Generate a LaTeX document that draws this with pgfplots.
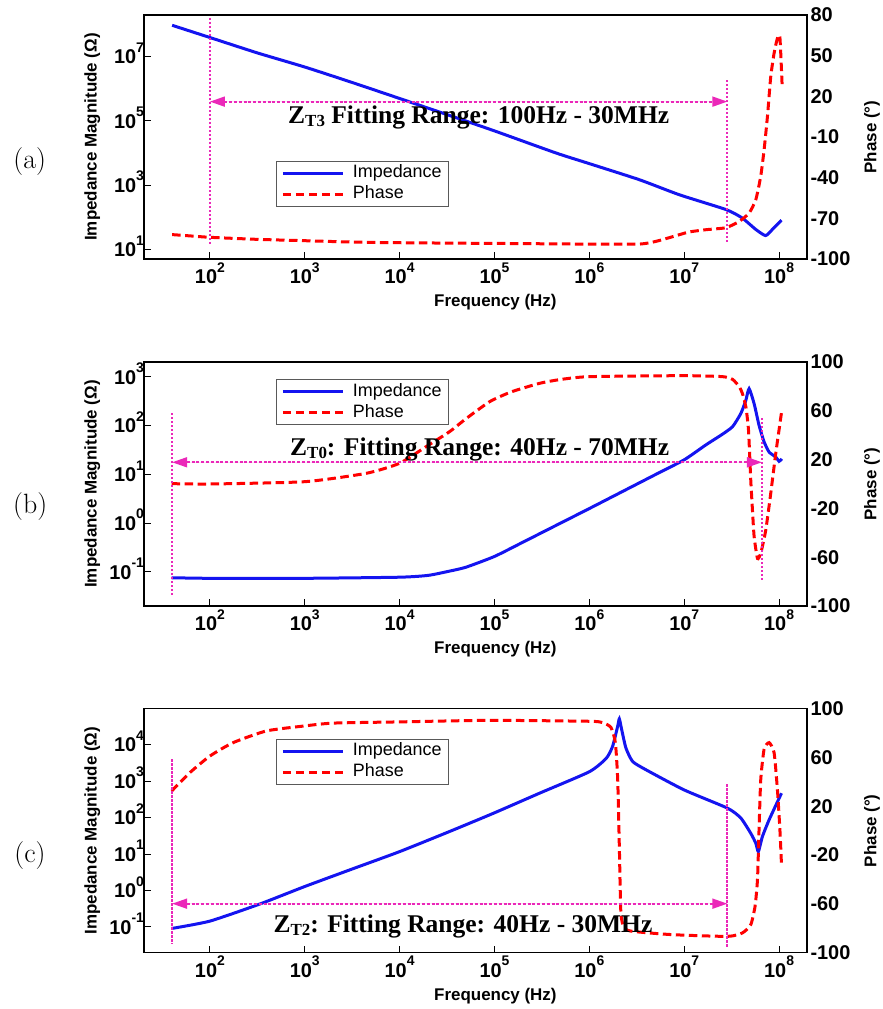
\documentclass[border=0pt]{standalone}
\usepackage{pgfplots}
\pgfplotsset{compat=1.18}
\usepackage{fontspec}
\usetikzlibrary{arrows.meta}
\newfontfamily\arial{Liberation Sans}
\newfontfamily\timesf{Liberation Serif}
\definecolor{zblue}{RGB}{20,20,240}
\definecolor{zred}{RGB}{255,0,0}
\definecolor{zmag}{RGB}{235,40,185}
\newcommand\tl[1]{10\raisebox{11.5bp}{\fontsize{14}{14}\selectfont #1}}
\newcommand\tickfont{\arial\bfseries\fontsize{20}{20}\selectfont}
\newcommand\labfont{\arial\bfseries\fontsize{17}{17}\selectfont}
\newcommand\annfont{\timesf\bfseries\fontsize{25.6}{25.6}\selectfont}
\newcommand\sub[1]{\raisebox{-3.5bp}{\fontsize{17}{17}\selectfont #1}}
\tikzset{
  zimp/.style={draw=zblue, line width=3bp, smooth, tension=0.35},
  zph/.style={draw=zred, line width=3bp, dash pattern=on 8.5bp off 4.5bp, smooth, tension=0.35},
  zdot/.style={draw=zmag, line width=1.8bp, dash pattern=on 2.4bp off 1.6bp},
  zarr/.style={draw=zmag, fill=zmag, line width=1.8bp, dash pattern=on 3bp off 1.8bp,
    {Triangle[length=15bp,width=10bp]}-{Triangle[length=15bp,width=10bp]}},
}
\pgfplotsset{
  every axis/.append style={scale only axis, width=663bp, height=244bp,
    xmin=20.2, xmax=1.97e8, axis line style={line width=1.2bp},
    tick label style={font=\tickfont}, label style={font=\labfont}},
  legend image code/.code={\draw[#1] (0bp,0bp) -- (60bp,0bp);},
  every axis legend/.append style={anchor=north west, draw=black!65, line width=0.9bp,
      font=\arial\fontsize{18}{18}\selectfont, inner xsep=5bp, inner ysep=2bp,
      row sep=1bp, column sep=7bp,
      nodes={inner sep=1.5bp, text height=13bp, text depth=4bp}},
}
\begin{document}
\begin{tikzpicture}
\path[use as bounding box] (0,0) rectangle (883bp,-1009bp);
% ---------------- (a)
\begin{axis}[xmode=log, ymode=log, xminorticks=false, yminorticks=false,
    xtick={1e2,1e3,1e4,1e5,1e6,1e7,1e8},
    xticklabels={\tl{2},\tl{3},\tl{4},\tl{5},\tl{6},\tl{7},\tl{8}},
    xtick pos=left, ytick pos=left, tick align=inside, major tick length=7bp,
    tick style={line width=1bp, black},
    yticklabel style={anchor=base east, yshift=-7.2bp, xshift=3.5bp},
    xlabel={Frequency (Hz)}, ylabel={Impedance Magnitude (Ω)},
    xlabel style={at={(axis description cs:0.53,-0.176)}, anchor=center},
    ylabel style={at={(axis description cs:-0.078,0.5)}, anchor=center},
    legend cell align=left,
  at={(144bp,-259bp)}, anchor=south west,
  ymin=5, ymax=2e8, ytick={1e1,1e3,1e5,1e7},
  yticklabels={\tl{1},\tl{3},\tl{5},\tl{7}},
  legend style={at={(axis description cs:0.199,0.402)}}]
\addplot[zimp] coordinates {
(40,9.55e7) (100,3.98e7) (316,1.32e7) (1000,4.79e6) (3162,1.58e6) (1e4,5.01e5)
(3.16e4,1.58e5) (1e5,4.9e4) (4.47e5,1e4) (1e6,4.68e3) (3.36e6,1.48e3)
(8.9e6,501) (2.75e7,174) (4.07e7,95.5) (5.68e7,41.7) (7.2e7,26.9) (8.5e7,41.7) (1.06e8,81.3)};
\addlegendentry{Impedance}
\addlegendimage{zph}
\addlegendentry{Phase}
\end{axis}
\begin{axis}[xmode=log, axis x line=none, axis y line*=right,
  ytick style={draw=none}, ylabel={Phase (°)},
  ylabel style={at={(axis description cs:1.098,0.5)}, anchor=center},
  at={(144bp,-259bp)}, anchor=south west,
  ymin=-100, ymax=80, ytick={-100,-70,-40,-10,20,50,80},
  yticklabels={-100,-70,-40,-10,20,50,80}]
\addplot[zph] coordinates {
(40,-82) (63,-83) (100,-84) (316,-85.5) (1000,-86.5) (3162,-87.5) (1e4,-88)
(1e5,-88.5) (1e6,-89) (3.36e6,-89) (5.03e6,-87) (7.5e6,-83.6) (1.12e7,-80.1)
(1.69e7,-78.4) (2.75e7,-76.9) (3.8e7,-72.3) (4.83e7,-66.1) (5.68e7,-56.3)
(6.4e7,-39.1) (6.95e7,-19.5) (7.54e7,5.1) (8.17e7,34.6) (8.86e7,51.8)
(9.6e7,62.8) (1.02e8,63.6) (1.08e8,26)};
\draw[zdot] (axis cs:100,77.8) -- (axis cs:100,-89.5);
\draw[zdot] (axis cs:2.85e7,32) -- (axis cs:2.85e7,-88);
\draw[zarr] (axis cs:100,16.1) -- (axis cs:2.85e7,16.1);
\end{axis}
% ---------------- (b)
\begin{axis}[xmode=log, ymode=log, xminorticks=false, yminorticks=false,
    xtick={1e2,1e3,1e4,1e5,1e6,1e7,1e8},
    xticklabels={\tl{2},\tl{3},\tl{4},\tl{5},\tl{6},\tl{7},\tl{8}},
    xtick pos=left, ytick pos=left, tick align=inside, major tick length=7bp,
    tick style={line width=1bp, black},
    yticklabel style={anchor=base east, yshift=-7.2bp, xshift=3.5bp},
    xlabel={Frequency (Hz)}, ylabel={Impedance Magnitude (Ω)},
    xlabel style={at={(axis description cs:0.53,-0.176)}, anchor=center},
    ylabel style={at={(axis description cs:-0.078,0.5)}, anchor=center},
    legend cell align=left,
  at={(144bp,-606bp)}, anchor=south west,
  ymin=0.02, ymax=2030, ytick={1e-1,1e0,1e1,1e2,1e3},
  yticklabels={\tl{-1},\tl{0},\tl{1},\tl{2},\tl{3}},
  legend style={at={(axis description cs:0.199,0.930)}}]
\addplot[zimp] coordinates {
(39.5,0.076) (100,0.074) (1000,0.074) (1e4,0.078) (2e4,0.085) (3.36e4,0.104)
(5e4,0.125) (1e5,0.208) (2e5,0.409) (5e5,1.01) (1e6,2.0) (2e6,4.0) (5e6,10) (1e7,20)
(1.7e7,40.7) (2.5e7,66) (3.23e7,95.5) (3.95e7,178) (4.46e7,331) (4.83e7,575) (5.46e7,282)
(6.15e7,102) (6.95e7,46.8) (7.85e7,28.8) (9.22e7,22.9) (1e8,18.6) (1.07e8,20.9)};
\addlegendentry{Impedance}
\addlegendimage{zph}
\addlegendentry{Phase}
\end{axis}
\begin{axis}[xmode=log, axis x line=none, axis y line*=right,
  ytick style={draw=none}, ylabel={Phase (°)},
  ylabel style={at={(axis description cs:1.098,0.5)}, anchor=center},
  at={(144bp,-606bp)}, anchor=south west,
  ymin=-100, ymax=100, ytick={-100,-60,-20,20,60,100},
  yticklabels={-100,-60,-20,20,60,100}]
\addplot[zph] coordinates {
(39.5,0.3) (100,0) (1000,1.9) (4470,8.8) (1e4,17) (1.9e4,30.6) (3.36e4,42.9)
(5e4,53.5) (8.9e4,67.5) (1.5e5,75.5) (2.98e5,82.5) (5e5,85.7) (1e6,88) (1e7,88.8)
(2.53e7,88) (3.23e7,85.8) (3.8e7,79.8) (4.1e7,74.3) (4.46e7,63.4) (4.76e7,44.3)
(5.03e7,3) (5.24e7,-21.3) (5.46e7,-43.2) (5.92e7,-61) (6.41e7,-56.8)
(7.24e7,-37.7) (8.17e7,-7.6) (9.22e7,25) (1.07e8,60.7)};
\draw[zdot] (axis cs:40,58.2) -- (axis cs:40,-92.4);
\draw[zdot] (axis cs:6.6e7,54.1) -- (axis cs:6.6e7,-80.1);
\draw[zarr] (axis cs:40,17.8) -- (axis cs:6.6e7,17.8);
\end{axis}
% ---------------- (c)
\begin{axis}[xmode=log, ymode=log, xminorticks=false, yminorticks=false,
    xtick={1e2,1e3,1e4,1e5,1e6,1e7,1e8},
    xticklabels={\tl{2},\tl{3},\tl{4},\tl{5},\tl{6},\tl{7},\tl{8}},
    xtick pos=left, ytick pos=left, tick align=inside, major tick length=7bp,
    tick style={line width=1bp, black},
    yticklabel style={anchor=base east, yshift=-7.2bp, xshift=3.5bp},
    xlabel={Frequency (Hz)}, ylabel={Impedance Magnitude (Ω)},
    xlabel style={at={(axis description cs:0.53,-0.176)}, anchor=center},
    ylabel style={at={(axis description cs:-0.078,0.5)}, anchor=center},
    legend cell align=left,
  at={(144bp,-952.7bp)}, anchor=south west,
  ymin=0.0197, ymax=9.75e4, ytick={1e-1,1e0,1e1,1e2,1e3,1e4},
  yticklabels={\tl{-1},\tl{0},\tl{1},\tl{2},\tl{3},\tl{4}},
  legend style={at={(axis description cs:0.199,0.877)}}]
\addplot[zimp] coordinates {
(39.5,0.091) (100,0.145) (336,0.427) (1000,1.29) (3162,3.9) (1e4,11.7) (3.36e4,41.7)
(9.75e4,132) (2.98e5,468) (1e6,1820) (1.51e6,4270) (1.76e6,9120) (1.99e6,32400)
(2.07e6,51300) (2.19e6,26300) (2.43e6,8130) (2.86e6,3470) (3.98e6,2040)
(1e7,575) (2.86e7,182) (3.95e7,97.7) (5.03e7,37.2) (5.68e7,20) (6.05e7,11.7)
(6.67e7,30.2) (7.85e7,87) (1.06e8,468)};
\addlegendentry{Impedance}
\addlegendimage{zph}
\addlegendentry{Phase}
\end{axis}
\begin{axis}[xmode=log, axis x line=none, axis y line*=right,
  ytick style={draw=none}, ylabel={Phase (°)},
  ylabel style={at={(axis description cs:1.098,0.5)}, anchor=center},
  at={(144bp,-952.7bp)}, anchor=south west,
  ymin=-100, ymax=100, ytick={-100,-60,-20,20,60,100},
  yticklabels={-100,-60,-20,20,60,100}]
\addplot[zph] coordinates {
(39.5,32.5) (61.5,47.6) (100,61.2) (176,72.2) (395,81.8) (1000,85.9) (1986,88.2)
(1e4,89.2) (3.36e4,90) (1e5,90.5) (1e6,89.7) (1.38e6,88.6) (1.69e6,84.6)
(1.88e6,72.2) (1.99e6,42) (2.07e6,-12.7) (2.15e6,-67.4) (2.33e6,-79.7)
(2.86e6,-82.5) (7.5e6,-85.2) (2.86e7,-86.6) (4.1e7,-83.8) (5.03e7,-77)
(5.58e7,-62) (5.92e7,-40) (6.15e7,1) (6.41e7,42) (6.95e7,66.7) (7.85e7,72.2)
(8.86e7,64) (9.6e7,33.9) (1.02e8,1) (1.06e8,-27.7)};
\draw[zdot] (axis cs:40,58.5) -- (axis cs:40,-92.9);
\draw[zdot] (axis cs:2.85e7,38) -- (axis cs:2.85e7,-96.2);
\draw[zarr] (axis cs:40,-59.8) -- (axis cs:2.85e7,-59.8);
\end{axis}
% ---------------- annotations
\node[anchor=base west, inner sep=0, font=\annfont] at (288bp,-123.3bp)
  {Z\sub{T3} Fitting Range: 100Hz - 30MHz};
\node[anchor=base west, inner sep=0, font=\annfont] at (290bp,-455bp)
  {Z\sub{T0}: Fitting Range: 40Hz - 70MHz};
\node[anchor=base west, inner sep=0, font=\annfont] at (273.3bp,-932.3bp)
  {Z\sub{T2}: Fitting Range: 40Hz - 30MHz};
\node[anchor=base, inner sep=0, font=\fontsize{28}{28}\selectfont] at (29.7bp,-168bp) {(a)};
\node[anchor=base, inner sep=0, font=\fontsize{28}{28}\selectfont] at (30.2bp,-513bp) {(b)};
\node[anchor=base, inner sep=0, font=\fontsize{28}{28}\selectfont] at (30bp,-862bp) {(c)};
\end{tikzpicture}
\end{document}
